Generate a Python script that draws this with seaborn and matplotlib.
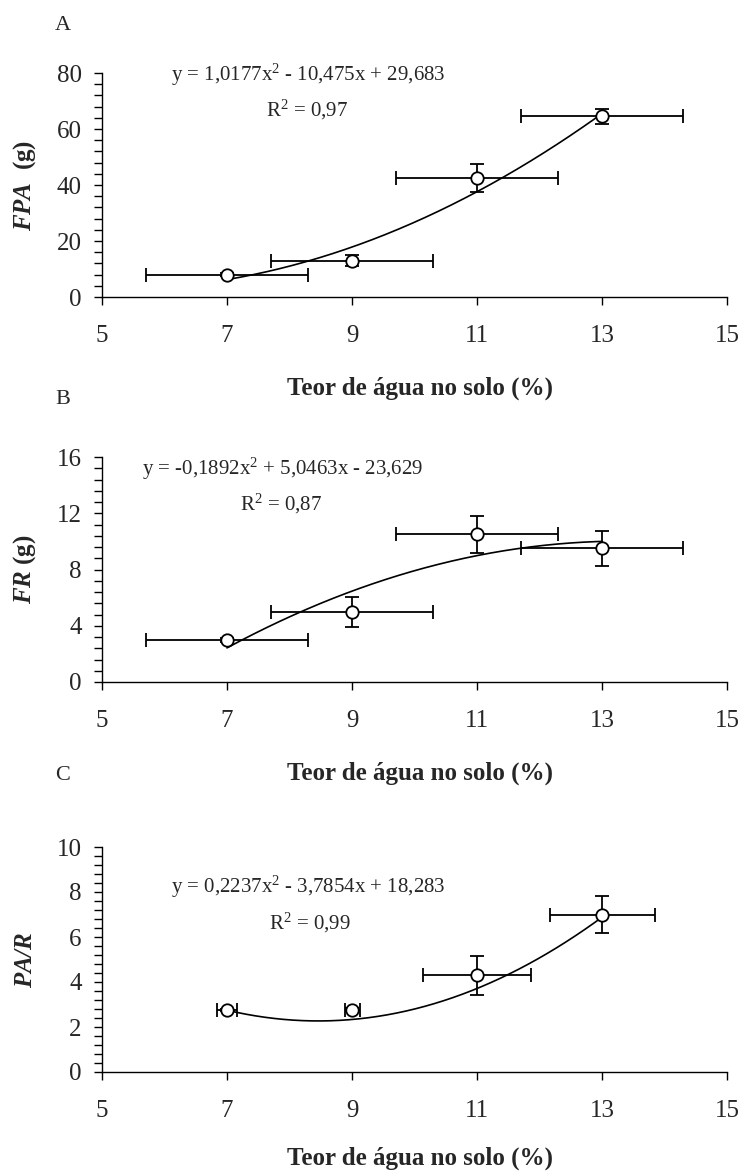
import numpy as np
import pandas as pd
import matplotlib
matplotlib.use("Agg")
import matplotlib.pyplot as plt
from matplotlib.ticker import MultipleLocator
import seaborn as sns

# Soil water content treatments (%)
water = [7, 9, 11, 13]

# Panel A: shoot fresh mass (g)
fpa_mean = [8.0, 13.0, 42.5, 64.5]
fpa_yerr = [0.6, 2.1, 5.1, 2.6]
fpa_xerr = [1.3, 1.3, 1.3, 1.3]
fpa_coef = [1.0177, -10.475, 29.683]

# Panel B: root fresh mass (g)
fr_mean = [3.0, 5.0, 10.5, 9.5]
fr_yerr = [0.15, 1.07, 1.3, 1.27]
fr_xerr = [1.3, 1.3, 1.3, 1.3]
fr_coef = [-0.1892, 5.0463, -23.629]

# Panel C: shoot/root ratio
par_mean = [2.77, 2.77, 4.3, 7.0]
par_yerr = [0.05, 0.08, 0.87, 0.83]
par_xerr = [0.16, 0.12, 0.86, 0.84]
par_coef = [0.2237, -3.7854, 18.283]

xticks = [5, 7, 9, 11, 13, 15]

sns.set_style("ticks")
plt.rcParams["font.family"] = ["Liberation Serif", "DejaVu Serif"]
plt.rcParams["mathtext.fontset"] = "custom"
plt.rcParams["mathtext.rm"] = "Liberation Serif"
plt.rcParams["mathtext.it"] = "Liberation Serif:italic"
plt.rcParams["mathtext.bf"] = "Liberation Serif:bold"
plt.rcParams["mathtext.bfit"] = "Liberation Serif:italic:bold"

W, H = 755, 1175
fig = plt.figure(figsize=(W / 100, H / 100), dpi=100)

# axes frame in pixels: left, right, top, bottom
AX_L, AX_R = 102, 727

panels = [
    dict(letter="A", mean=fpa_mean, yerr=fpa_yerr, xerr=fpa_xerr, coef=fpa_coef,
         ylim=(0, 80), major=20, minor=4, ylabel=r"$\mathbfit{FPA}$  (g)",
         eq="y = 1,0177x$^{2}$ - 10,475x + 29,683", r2="R$^{2}$ = 0,97",
         eqpos=(8.3, 79.3), r2pos=(8.28, 66.8),
         top=73, bottom=297, letter_px=25, xlabel_px=388),
    dict(letter="B", mean=fr_mean, yerr=fr_yerr, xerr=fr_xerr, coef=fr_coef,
         ylim=(0, 16), major=4, minor=0.8, ylabel=r"$\mathbfit{FR}$ (g)",
         eq="y = -0,1892x$^{2}$ + 5,0463x - 23,629", r2="R$^{2}$ = 0,87",
         eqpos=(7.89, 15.17), r2pos=(7.87, 12.68),
         top=457, bottom=682, letter_px=400, xlabel_px=773),
    dict(letter="C", mean=par_mean, yerr=par_yerr, xerr=par_xerr, coef=par_coef,
         ylim=(0, 10), major=2, minor=0.4, ylabel=r"$\mathbfit{PA/R}$",
         eq="y = 0,2237x$^{2}$ - 3,7854x + 18,283", r2="R$^{2}$ = 0,99",
         eqpos=(8.3, 8.23), r2pos=(8.33, 6.64),
         top=847, bottom=1072, letter_px=775, xlabel_px=1158),
]

for p in panels:
    rect = [AX_L / W, 1 - p["bottom"] / H, (AX_R - AX_L) / W,
            (p["bottom"] - p["top"]) / H]
    ax = fig.add_axes(rect)
    df = pd.DataFrame({"x": water, "y": p["mean"]})

    # fitted quadratic trend over the measured range
    xf = np.linspace(min(water), max(water), 200)
    yf = np.polyval(p["coef"], xf)
    sns.lineplot(x=xf, y=yf, ax=ax, color="black", linewidth=1.2, zorder=2)

    ax.errorbar(df["x"], df["y"], xerr=p["xerr"], yerr=p["yerr"], fmt="none",
                ecolor="black", elinewidth=1.3, capsize=4.7, capthick=1.3, zorder=3)
    sns.scatterplot(data=df, x="x", y="y", ax=ax, marker="o", s=80,
                    facecolor="white", edgecolor="black", linewidth=1.3, zorder=4)

    ax.set_xlim(5, 15)
    ax.set_ylim(*p["ylim"])
    ax.set_xticks(xticks)
    ax.yaxis.set_major_locator(MultipleLocator(p["major"]))
    ax.yaxis.set_minor_locator(MultipleLocator(p["minor"]))
    ax.tick_params(axis="both", which="major", labelsize=18, length=5.5,
                   width=1.0, direction="out", color="black")
    ax.tick_params(axis="y", which="minor", length=5.5, width=1.0, color="black")
    ax.tick_params(axis="x", which="major", pad=15)
    ax.tick_params(axis="y", which="major", pad=9)
    for s in ["top", "right"]:
        ax.spines[s].set_visible(False)
    for s in ["left", "bottom"]:
        ax.spines[s].set_color("black")
        ax.spines[s].set_linewidth(1.0)

    ax.set_xlabel("")
    ax.set_ylabel("")

    ax.text(*p["eqpos"], p["eq"], fontsize=15, ha="center", va="center")
    ax.text(*p["r2pos"], p["r2"], fontsize=15, ha="center", va="center")

    ymid = 1 - (p["top"] + p["bottom"]) / 2 / H
    fig.text(25 / W, ymid, p["ylabel"], fontsize=18, fontweight="bold",
             rotation=90, ha="center", va="center")
    fig.text(63 / W, 1 - p["letter_px"] / H, p["letter"], fontsize=16,
             ha="center", va="center")
    fig.text(420 / W, 1 - p["xlabel_px"] / H, "Teor de água no solo (%)",
             fontsize=18, fontweight="bold", ha="center", va="center")

fig.savefig("out.png", dpi=100)
